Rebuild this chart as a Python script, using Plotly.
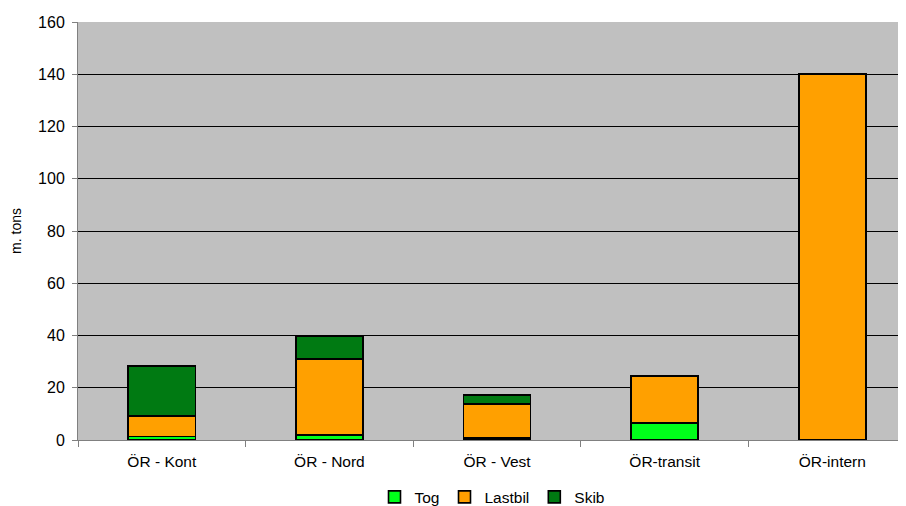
import plotly.graph_objects as go

categories = ["ÖR - Kont", "ÖR - Nord", "ÖR - Vest", "ÖR-transit", "ÖR-intern"]
tog = [1.4, 1.9, 0.8, 6.6, 0.0]
lastbil = [7.8, 29.0, 13.0, 17.9, 140.0]
skib = [19.2, 9.0, 3.5, 0.0, 0.0]

series = [("Tog", tog, "#00FF1A"), ("Lastbil", lastbil, "#FFA000"), ("Skib", skib, "#007A12")]

fig = go.Figure()
for name, vals, col in series:
    fig.add_trace(go.Bar(
        x=categories, y=vals, name=name,
        marker=dict(color=col, line=dict(color="#000000", width=1.6)),
        width=0.4,
    ))

fig.update_layout(
    barmode="stack",
    width=898, height=498,
    margin=dict(l=70, r=0, t=14, b=66, autoexpand=False),
    paper_bgcolor="#FFFFFF",
    plot_bgcolor="#C0C0C0",
    font=dict(family="Liberation Sans, Arial, sans-serif", size=15.5, color="#000000"),
    showlegend=True,
    legend=dict(orientation="h", x=0.5, xanchor="center", xref="paper",
                y=-0.137, yanchor="middle", yref="paper",
                font=dict(size=15.5), itemwidth=30, traceorder="normal",
                bgcolor="rgba(0,0,0,0)", tracegroupgap=0),
)
fig.update_xaxes(
    type="category", range=[-0.5, 4.44], automargin=False,
    showline=True, linecolor="#808080", linewidth=1,
    ticks="outside", tickson="boundaries", ticklen=6, tickcolor="#808080",
    showgrid=False, tickfont=dict(size=15.5), ticklabelstandoff=7,
)
fig.update_yaxes(
    range=[0, 160], dtick=20, automargin=False,
    showline=True, linecolor="#808080", linewidth=1,
    ticks="outside", ticklen=5, tickcolor="#808080",
    showgrid=True, gridcolor="#000000", gridwidth=1,
    zeroline=False, ticklabelstandoff=4,
    title=dict(text="m. tons", font=dict(size=14), standoff=14),
    tickfont=dict(size=16),
)
fig.write_html("out.html")
